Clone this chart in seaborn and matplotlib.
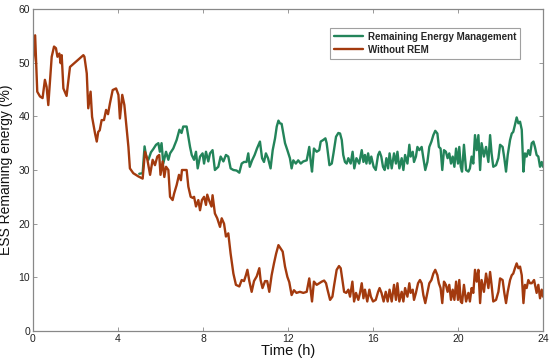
import matplotlib
matplotlib.use("Agg")
import matplotlib.pyplot as plt
import seaborn as sns
import pandas as pd

# ---- data: Without REM (red) ----
t_red = [0.0, 0.1, 0.2, 0.33, 0.45, 0.56, 0.64, 0.72, 0.88, 0.99, 1.08, 1.15, 1.24, 1.30, 1.35,
         1.43, 1.58, 1.74, 2.37, 2.42, 2.53, 2.60, 2.71, 2.78, 2.92, 3.0, 3.07, 3.14, 3.23, 3.34,
         3.44, 3.53, 3.62, 3.75, 3.91, 4.02, 4.09, 4.20, 4.30, 4.41, 4.49, 4.56, 4.72, 4.96, 5.16,
         5.27, 5.37, 5.51, 5.63, 5.74, 5.85, 5.94, 6.0, 6.1, 6.18, 6.26, 6.37, 6.45, 6.57, 6.64,
         6.76, 6.87, 6.96, 7.01, 7.23, 7.31, 7.42, 7.52, 7.58, 7.67, 7.78, 7.86, 7.95, 8.05, 8.14,
         8.2, 8.3, 8.4, 8.45, 8.56, 8.67, 8.8, 8.88, 8.99, 9.08, 9.19, 9.30, 9.43, 9.55, 9.71,
         9.82, 9.93, 10.02, 10.09, 10.18, 10.29, 10.4, 10.53, 10.65, 10.71, 10.8, 10.92, 11.02, 11.12, 11.23,
         11.34, 11.44, 11.55, 11.65, 11.75, 11.86, 11.97, 12.06, 12.17, 12.28, 12.4, 12.56, 12.72, 12.88, 13.0,
         13.08, 13.13, 13.22, 13.35, 13.47, 13.59, 13.7, 13.79, 13.86, 13.98, 14.09, 14.17, 14.29, 14.4, 14.48,
         14.56, 14.64, 14.74, 14.84, 14.92, 15.03, 15.11, 15.2, 15.31, 15.39, 15.47, 15.55, 15.62, 15.73, 15.83,
         15.9, 16.0, 16.13, 16.24, 16.31, 16.4, 16.5, 16.6, 16.69, 16.78, 16.88, 16.99, 17.08, 17.15, 17.24,
         17.35, 17.43, 17.51, 17.62, 17.71, 17.77, 17.87, 17.93, 18.02, 18.12, 18.21, 18.29, 18.37, 18.46, 18.56,
         18.65, 18.75, 18.84, 18.93, 19.03, 19.1, 19.18, 19.26, 19.34, 19.43, 19.51, 19.59, 19.67, 19.75, 19.83,
         19.91, 20.0, 20.06, 20.13, 20.19, 20.28, 20.38, 20.49, 20.56, 20.64, 20.72, 20.8, 20.88, 20.96, 21.04,
         21.11, 21.22, 21.32, 21.43, 21.51, 21.58, 21.66, 21.79, 21.9, 21.98, 22.1, 22.18, 22.26, 22.34, 22.45,
         22.53, 22.6, 22.68, 22.76, 22.84, 22.92, 23.0, 23.08, 23.15, 23.23, 23.31, 23.39, 23.47, 23.58, 23.7,
         23.78, 23.86, 23.94, 24.0]
v_red = [50.2, 55.1, 44.6, 43.7, 43.4, 46.8, 45.5, 42.1, 51.1, 53.0, 52.7, 51.1, 51.7, 49.9, 51.4,
         45.2, 43.8, 49.2, 51.4, 51.1, 48.0, 41.5, 44.6, 39.9, 36.8, 35.3, 37.1, 37.4, 39.3, 39.3,
         41.2, 40.4, 42.4, 44.9, 45.2, 44.0, 39.6, 44.0, 42.1, 37.5, 34.3, 30.3, 29.4, 28.8, 28.4,
         33.4, 32.2, 29.1, 31.9, 30.9, 32.5, 32.8, 29.1, 31.6, 28.7, 30.6, 30.0, 25.0, 24.4, 25.6,
         27.2, 29.1, 28.1, 30.0, 30.0, 26.9, 25.0, 24.8, 25.0, 23.2, 24.4, 22.5, 24.4, 25.0, 23.5,
         25.4, 24.2, 23.2, 25.3, 21.9, 21.0, 19.4, 21.0, 20.0, 17.6, 18.2, 14.4, 10.7, 8.6, 8.3,
         9.5, 9.3, 10.4, 11.4, 9.3, 7.3, 9.3, 10.2, 11.7, 9.5, 8.0, 9.3, 9.3, 7.3, 10.4,
         12.6, 14.4, 16.0, 15.4, 14.8, 12.0, 10.1, 9.1, 6.7, 7.6, 7.1, 7.3, 7.1, 7.3, 9.8,
         7.1, 5.5, 9.2, 8.6, 8.9, 9.2, 9.4, 8.9, 7.7, 5.8, 6.4, 8.5, 11.4, 12.1, 11.7,
         9.5, 7.3, 7.1, 7.7, 6.4, 9.2, 5.5, 7.1, 5.8, 7.1, 8.9, 6.1, 7.7, 5.5, 7.7,
         6.4, 5.5, 5.8, 7.3, 8.0, 7.1, 5.5, 7.3, 5.5, 7.7, 5.5, 8.6, 5.8, 8.9, 5.5,
         7.3, 5.5, 8.0, 6.4, 8.9, 7.1, 7.7, 5.8, 7.1, 8.9, 9.5, 8.9, 6.7, 5.2, 7.1,
         8.9, 9.5, 10.7, 11.4, 10.4, 8.9, 8.0, 5.2, 9.2, 8.6, 7.3, 8.6, 5.8, 7.7, 5.8,
         9.2, 5.8, 9.5, 5.5, 5.2, 8.6, 5.5, 7.1, 5.5, 8.0, 7.1, 11.4, 9.2, 11.4, 5.2,
         9.5, 7.3, 10.7, 8.0, 11.0, 8.6, 5.5, 5.8, 7.3, 9.8, 9.5, 7.1, 5.2, 7.3, 9.5,
         10.4, 10.7, 11.7, 12.6, 11.7, 12.0, 10.4, 5.2, 8.6, 8.0, 9.5, 8.9, 8.9, 9.5, 7.1,
         8.6, 6.1, 7.7, 6.4]

# ---- data: Remaining Energy Management (green) ----
t_grn = [5.0, 5.16, 5.25, 5.33, 5.43, 5.55, 5.66, 5.79, 5.9, 5.97, 6.05, 6.13, 6.26, 6.37, 6.45,
         6.6, 6.76, 6.89, 6.99, 7.07, 7.23, 7.31, 7.39, 7.47, 7.58, 7.67, 7.75, 7.86, 7.98, 8.05,
         8.14, 8.25, 8.33, 8.45, 8.56, 8.72, 8.83, 8.96, 9.08, 9.19, 9.30, 9.43, 9.58, 9.71, 9.82,
         9.93, 10.05, 10.13, 10.2, 10.31, 10.43, 10.54, 10.68, 10.78, 10.87, 10.96, 11.06, 11.18, 11.28, 11.39,
         11.47, 11.55, 11.62, 11.7, 11.78, 11.86, 11.97, 12.09, 12.17, 12.25, 12.37, 12.48, 12.6, 12.72, 12.88,
         13.0, 13.08, 13.13, 13.22, 13.35, 13.47, 13.54, 13.66, 13.76, 13.82, 13.95, 14.06, 14.14, 14.26, 14.37,
         14.45, 14.53, 14.6, 14.68, 14.76, 14.84, 14.95, 15.04, 15.12, 15.22, 15.35, 15.47, 15.55, 15.62, 15.69,
         15.77, 15.85, 15.92, 16.03, 16.13, 16.24, 16.31, 16.39, 16.47, 16.55, 16.63, 16.71, 16.78, 16.88, 16.99,
         17.08, 17.15, 17.24, 17.35, 17.43, 17.51, 17.62, 17.71, 17.77, 17.87, 17.93, 18.02, 18.09, 18.18, 18.29,
         18.37, 18.46, 18.56, 18.65, 18.75, 18.84, 18.93, 19.03, 19.1, 19.18, 19.26, 19.34, 19.43, 19.51, 19.59,
         19.67, 19.75, 19.83, 19.91, 20.0, 20.06, 20.13, 20.19, 20.28, 20.38, 20.49, 20.56, 20.64, 20.72, 20.8,
         20.88, 20.96, 21.04, 21.11, 21.22, 21.32, 21.43, 21.51, 21.58, 21.66, 21.79, 21.9, 21.98, 22.1, 22.18,
         22.26, 22.34, 22.45, 22.53, 22.6, 22.68, 22.76, 22.84, 22.92, 23.0, 23.08, 23.15, 23.23, 23.31, 23.39,
         23.47, 23.55, 23.62, 23.7, 23.78, 23.86, 23.94, 24.0]
v_grn = [29.3, 29.4, 34.4, 32.4, 31.9, 33.3, 33.9, 34.7, 35.0, 33.4, 35.0, 31.2, 33.4, 31.9, 33.1,
         34.0, 35.6, 37.5, 36.9, 38.1, 38.1, 36.2, 34.3, 32.8, 31.9, 33.4, 30.3, 32.5, 33.1, 31.2,
         33.4, 31.6, 33.1, 33.7, 30.0, 30.6, 32.5, 31.6, 32.8, 32.5, 30.3, 30.0, 29.9, 29.5, 31.2,
         31.5, 31.5, 33.1, 30.6, 31.8, 32.8, 34.0, 35.3, 32.2, 31.5, 33.1, 32.2, 30.3, 33.7, 35.9,
         38.1, 39.2, 38.7, 38.6, 36.8, 35.0, 33.7, 32.2, 30.3, 31.8, 31.2, 31.8, 31.2, 31.6, 31.8,
         34.3, 31.2, 29.7, 34.0, 33.4, 33.7, 35.3, 35.6, 35.9, 35.0, 30.9, 31.2, 33.1, 36.2, 36.9,
         36.8, 35.6, 32.8, 31.5, 31.2, 32.2, 31.2, 33.4, 30.3, 32.2, 31.2, 33.7, 31.5, 32.8, 31.2,
         33.1, 31.2, 32.5, 30.6, 30.0, 32.8, 33.4, 32.5, 30.6, 30.0, 32.2, 30.3, 33.1, 30.3, 33.1,
         31.2, 33.4, 30.3, 32.2, 30.0, 32.8, 31.2, 34.7, 32.5, 33.4, 31.5, 32.5, 34.3, 33.7, 34.3,
         32.2, 30.0, 31.5, 34.3, 35.3, 36.5, 37.3, 36.8, 34.3, 34.0, 30.0, 33.7, 33.4, 32.2, 33.1,
         31.2, 32.5, 30.6, 34.0, 31.2, 34.3, 30.6, 29.7, 34.7, 30.0, 29.7, 30.3, 32.5, 31.2, 36.5,
         33.7, 36.5, 30.0, 35.0, 32.5, 34.3, 31.5, 36.5, 33.1, 30.6, 30.9, 32.2, 34.7, 34.3, 32.2,
         29.7, 32.8, 35.6, 36.8, 37.1, 38.4, 39.8, 38.7, 39.0, 37.5, 29.7, 33.1, 32.5, 33.7, 32.8,
         35.0, 35.3, 34.3, 32.8, 32.5, 30.6, 31.5, 30.6]

series_names = ["Remaining Energy Management", "Without REM"]
x_ticks = [0, 4, 8, 12, 16, 20, 24]
y_ticks = [0, 10, 20, 30, 40, 50, 60]

sns.set_theme(style="white")
plt.rcParams["font.family"] = ["Liberation Sans", "DejaVu Sans"]

green = "#23845a"
red = "#a33a0e"

fig = plt.figure(figsize=(5.5, 3.62), dpi=100)
ax = fig.add_axes([33 / 550, 1 - 331 / 362, 510 / 550, 322 / 362])

df_g = pd.DataFrame({"t": t_grn, "v": v_grn})
df_r = pd.DataFrame({"t": t_red, "v": v_red})
sns.lineplot(data=df_g, x="t", y="v", ax=ax, color=green, linewidth=1.7,
             label=series_names[0], estimator=None, sort=False)
sns.lineplot(data=df_r, x="t", y="v", ax=ax, color=red, linewidth=1.7,
             label=series_names[1], estimator=None, sort=False)

ax.set_xlim(0, 24)
ax.set_ylim(0, 60)
ax.set_xticks(x_ticks)
ax.set_yticks(y_ticks)
ax.set_xticklabels([str(v) for v in x_ticks], fontsize=7.5)
ax.set_yticklabels([str(v) for v in y_ticks], fontsize=7.5)
ax.tick_params(direction="in", length=3, width=0.6, color="#888888",
               top=True, right=True, bottom=True, left=True, pad=2, labelcolor="#222222")
for s in ax.spines.values():
    s.set_color("#888888")
    s.set_linewidth(0.9)
ax.set_xlabel("Time (h)", fontsize=10.5, labelpad=0, color="#111111")
ax.set_ylabel("ESS Remaining energy (%)", fontsize=10, labelpad=4, color="#111111")

# legend anchored at the upper-right corner of the box (axes fraction)
leg = ax.legend(loc="upper right", bbox_to_anchor=((520 - 33) / 510, 1 - (28 - 9) / 322),
                prop={"weight": "bold", "size": 7}, frameon=True, fancybox=False,
                handlelength=3.0, handletextpad=0.5, borderpad=0.4, labelspacing=0.3,
                borderaxespad=0)
leg.get_frame().set_edgecolor("#888888")
leg.get_frame().set_linewidth(0.8)

fig.savefig("out.png", dpi=100)
